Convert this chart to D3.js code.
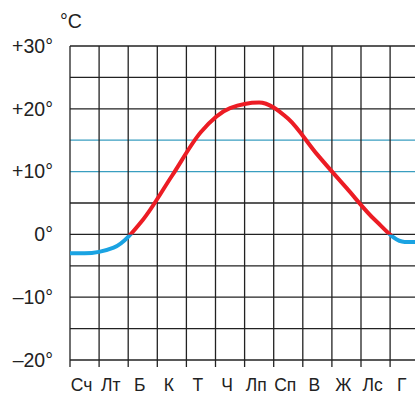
<!DOCTYPE html>
<html>
<head>
<meta charset="utf-8">
<script src="https://cdn.jsdelivr.net/npm/d3@7"></script>
<style>
  body { margin: 0; background: #fff; }
  text { font-family: "Liberation Sans", Arial, sans-serif; fill: #222; }
</style>
</head>
<body>
<svg id="chart"></svg>
<script>
var viewWidth = 415;
var viewHeight = 395;

// data
var months = ["Сч", "Лт", "Б", "К", "Т", "Ч", "Лп", "Сп", "В", "Ж", "Лс", "Г"];
var temps = [-3, -2.1, 2.3, 9.3, 16.3, 20.1, 21, 18.4, 12.7, 7.4, 2.2, -1.2];
var gridTemps = [-20, -15, -10, -5, 0, 5, 10, 15, 20, 25, 30];
var labelTemps = [-20, -10, 0, 10, 20, 30];
var blueTemps = [10, 15];

var margin = {top: 46, left: 70, bottom: 35};
var cell = 29.1;

var svg = d3.select("#chart")
    .attr("width", viewWidth)
    .attr("height", viewHeight);

// month index -> x (band edges at integers)
var x = d3.scaleLinear()
  .domain([0, months.length])
  .range([margin.left, margin.left + months.length * cell]);
var y = d3.scaleLinear()
  .domain([30, -20])
  .range([margin.top, 360]);

// horizontal grid
svg.append("g")
  .selectAll("line")
  .data(gridTemps)
  .enter().append("line")
    .attr("x1", x(0))
    .attr("x2", viewWidth)
    .attr("y1", function(d) { return y(d); })
    .attr("y2", function(d) { return y(d); })
    .attr("stroke", function(d) { return blueTemps.indexOf(d) >= 0 ? "#3a9ec0" : "#222"; })
    .attr("stroke-width", 1.3);

// vertical grid + ticks
svg.append("g")
  .selectAll("line")
  .data(months)
  .enter().append("line")
    .attr("x1", function(d, i) { return x(i); })
    .attr("x2", function(d, i) { return x(i); })
    .attr("y1", y(30))
    .attr("y2", y(-20) + 7)
    .attr("stroke", "#222")
    .attr("stroke-width", 1.3);

// y labels
var yAxis = d3.axisLeft(y)
  .tickValues(labelTemps)
  .tickSize(0)
  .tickPadding(17)
  .tickFormat(function(d) {
    if (d > 0) return "+" + d + "°";
    if (d < 0) return "\u2013" + Math.abs(d) + "°";
    return "0°";
  });
var yg = svg.append("g")
  .attr("transform", "translate(" + margin.left + ",0)")
  .call(yAxis);
yg.select(".domain").remove();
yg.selectAll("text")
  .attr("font-size", 19.5)
  .attr("font-family", "Liberation Sans, Arial, sans-serif")
  .attr("fill", "#222");

svg.append("text")
  .attr("x", 60)
  .attr("y", 28)
  .attr("font-size", 19.5)
  .text("°C");

// month labels
svg.append("g")
  .selectAll("text")
  .data(months)
  .enter().append("text")
    .attr("x", function(d, i) { return x(i + 0.5) - 3; })
    .attr("y", 391)
    .attr("text-anchor", "middle")
    .attr("font-size", 17.5)
    .text(function(d) { return d; });

// curve, held flat past Jan and Dec so it runs to both edges
var pts = temps.map(function(t, i) { return [i + 0.5, t]; });
pts.unshift([0, temps[0]]);
pts.push([months.length, temps[temps.length - 1]]);

var line = d3.line()
  .x(function(d) { return x(d[0]); })
  .y(function(d) { return y(d[1]); })
  .curve(d3.curveMonotoneX);

var defs = svg.append("defs");
defs.append("clipPath").attr("id", "warm")
  .append("rect")
    .attr("x", x(0)).attr("y", 0)
    .attr("width", viewWidth).attr("height", y(0));
defs.append("clipPath").attr("id", "cold")
  .append("rect")
    .attr("x", x(0)).attr("y", y(0))
    .attr("width", viewWidth).attr("height", viewHeight);

svg.append("path")
  .datum(pts)
  .attr("clip-path", "url(#cold)")
  .attr("fill", "none")
  .attr("stroke", "#1aa3e2")
  .attr("stroke-width", 4)
  .attr("d", line);

svg.append("path")
  .datum(pts)
  .attr("clip-path", "url(#warm)")
  .attr("fill", "none")
  .attr("stroke", "#ec1c24")
  .attr("stroke-width", 4)
  .attr("d", line);
</script>
</body>
</html>
